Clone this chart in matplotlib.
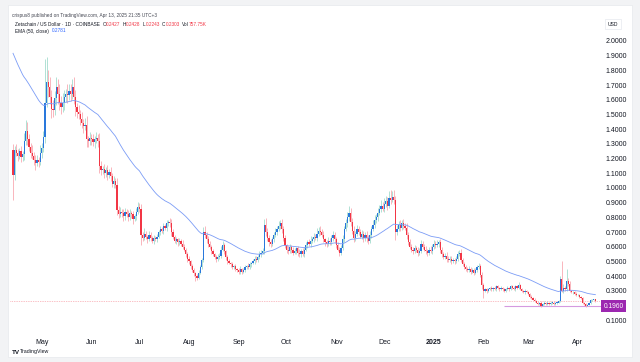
import numpy as np
import pandas as pd
import matplotlib
matplotlib.use('Agg')
import matplotlib.pyplot as plt
import matplotlib.dates as mdates
from matplotlib.patches import Rectangle
from matplotlib.transforms import blended_transform_factory

plt.rcParams['font.family'] = ['Liberation Sans', 'DejaVu Sans']

# ZETA/USD daily candles, Apr 13 2024 -> Apr 13 2025
start_date = '2024-04-13'
first_open = 1.26
closes = [
    1.09, 1.26, 1.24, 1.22, 1.25, 1.21, 1.23, 1.32, 1.39, 1.33,
    1.28, 1.24, 1.22, 1.19, 1.17, 1.19, 1.18, 1.24, 1.27, 1.35,
    1.58, 1.72, 1.69, 1.62, 1.54, 1.53, 1.61, 1.69, 1.64, 1.58,
    1.55, 1.58, 1.62, 1.64, 1.63, 1.66, 1.64, 1.69, 1.62, 1.55,
    1.52, 1.50, 1.47, 1.44, 1.42, 1.43, 1.33, 1.32, 1.34, 1.33,
    1.31, 1.33, 1.34, 1.32, 1.15, 1.12, 1.13, 1.10, 1.12, 1.09,
    1.11, 1.08, 1.03, 1.05, 1.02, 0.85, 0.82, 0.84, 0.83, 0.81,
    0.84, 0.82, 0.80, 0.83, 0.82, 0.79, 0.81, 0.84, 0.87, 0.86,
    0.68, 0.66, 0.69, 0.67, 0.65, 0.68, 0.66, 0.64, 0.66, 0.65,
    0.67, 0.70, 0.72, 0.71, 0.74, 0.73, 0.76, 0.77, 0.76, 0.70,
    0.67, 0.64, 0.65, 0.63, 0.64, 0.62, 0.60, 0.58, 0.55, 0.52,
    0.50, 0.47, 0.44, 0.42, 0.40, 0.39, 0.42, 0.46, 0.51, 0.70,
    0.68, 0.65, 0.62, 0.60, 0.57, 0.55, 0.53, 0.52, 0.53, 0.54,
    0.58, 0.61, 0.57, 0.53, 0.50, 0.49, 0.48, 0.46, 0.47, 0.45,
    0.44, 0.43, 0.45, 0.43, 0.44, 0.46, 0.47, 0.46, 0.48, 0.49,
    0.50, 0.52, 0.51, 0.53, 0.55, 0.56, 0.57, 0.75, 0.70, 0.66,
    0.63, 0.62, 0.65, 0.68, 0.70, 0.72, 0.74, 0.76, 0.72, 0.66,
    0.61, 0.58, 0.57, 0.60, 0.58, 0.56, 0.57, 0.59, 0.56, 0.55,
    0.57, 0.55, 0.58, 0.61, 0.63, 0.62, 0.64, 0.65, 0.67, 0.66,
    0.69, 0.71, 0.70, 0.68, 0.65, 0.63, 0.62, 0.64, 0.63, 0.66,
    0.68, 0.65, 0.61, 0.58, 0.56, 0.59, 0.65, 0.72, 0.76, 0.80,
    0.83, 0.77, 0.71, 0.66, 0.69, 0.72, 0.70, 0.67, 0.69, 0.66,
    0.68, 0.66, 0.64, 0.68, 0.72, 0.75, 0.78, 0.80, 0.83, 0.86,
    0.88, 0.86, 0.89, 0.91, 0.88, 0.93, 0.92, 0.94, 0.92, 0.70,
    0.72, 0.75, 0.73, 0.76, 0.74, 0.73, 0.68, 0.63, 0.60, 0.58,
    0.57, 0.59, 0.58, 0.56, 0.57, 0.62, 0.60, 0.58, 0.57, 0.56,
    0.58, 0.57, 0.60, 0.62, 0.61, 0.62, 0.63, 0.58, 0.55, 0.53,
    0.54, 0.52, 0.51, 0.52, 0.50, 0.51, 0.50, 0.52, 0.55, 0.56,
    0.51, 0.48, 0.46, 0.45, 0.44, 0.45, 0.43, 0.44, 0.42, 0.44,
    0.46, 0.47, 0.41, 0.34, 0.30, 0.31, 0.30, 0.31, 0.32, 0.31,
    0.32, 0.31, 0.33, 0.32, 0.31, 0.32, 0.31, 0.30, 0.31, 0.32,
    0.31, 0.33, 0.32, 0.31, 0.33, 0.32, 0.34, 0.31, 0.30, 0.29,
    0.30, 0.29, 0.28, 0.26, 0.25, 0.24, 0.23, 0.22, 0.21, 0.22,
    0.20, 0.21, 0.22, 0.21, 0.22, 0.21, 0.22, 0.22, 0.21, 0.22,
    0.22, 0.23, 0.38, 0.30, 0.32, 0.31, 0.37, 0.35, 0.30, 0.29,
    0.29, 0.28, 0.27, 0.27, 0.26, 0.25, 0.22, 0.21, 0.20, 0.205,
    0.22, 0.235, 0.24, 0.2427, 0.2303,
]
# wick lengths in percent of the body top / body bottom
wick_up_pct = [
    3, 2, 3, 2, 2, 3, 2, 4, 5, 4,
    3, 2, 4, 2, 3, 3, 2, 4, 3, 3,
    19, 10, 5, 4, 3, 4, 3, 4, 3, 4,
    3, 4, 3, 2, 4, 3, 3, 3, 4, 3,
    2, 3, 2, 3, 2, 3, 4, 2, 3, 2,
    3, 2, 3, 2, 4, 3, 2, 3, 2, 3,
    2, 3, 2, 3, 2, 5, 3, 4, 2, 3,
    3, 2, 4, 3, 2, 3, 2, 3, 4, 3,
    4, 3, 5, 3, 2, 4, 3, 2, 3, 2,
    3, 2, 3, 2, 3, 2, 3, 2, 3, 4,
    3, 2, 3, 2, 3, 2, 4, 3, 2, 3,
    3, 2, 3, 4, 2, 3, 5, 4, 3, 5,
    6, 3, 4, 3, 2, 3, 2, 3, 4, 3,
    4, 5, 3, 2, 3, 4, 2, 3, 2, 3,
    2, 3, 4, 2, 3, 3, 2, 4, 3, 2,
    3, 4, 3, 3, 4, 3, 4, 5, 6, 4,
    3, 4, 3, 3, 4, 3, 5, 3, 4, 3,
    3, 2, 4, 3, 2, 3, 4, 2, 3, 4,
    3, 4, 3, 4, 3, 4, 5, 3, 4, 3,
    5, 3, 4, 3, 4, 2, 3, 4, 3, 3,
    4, 3, 3, 4, 3, 4, 5, 3, 4, 5,
    6, 4, 3, 4, 3, 4, 3, 3, 4, 3,
    3, 4, 3, 4, 3, 4, 5, 3, 4, 3,
    4, 3, 5, 4, 3, 5, 6, 4, 5, 3,
    4, 3, 4, 3, 4, 3, 4, 3, 4, 3,
    3, 4, 3, 3, 4, 4, 3, 3, 4, 3,
    3, 4, 3, 4, 3, 4, 3, 4, 3, 3,
    3, 4, 3, 3, 4, 3, 3, 3, 4, 3,
    4, 3, 4, 3, 3, 4, 3, 3, 4, 3,
    3, 4, 3, 5, 4, 4, 3, 4, 3, 4,
    3, 4, 3, 4, 3, 4, 3, 4, 3, 4,
    3, 4, 3, 4, 3, 4, 6, 3, 4, 3,
    4, 3, 4, 3, 4, 3, 4, 3, 4, 3,
    4, 3, 4, 3, 4, 3, 4, 3, 4, 3,
    3, 4, 6, 32, 8, 5, 22, 5, 4, 3,
    4, 3, 4, 3, 4, 3, 4, 3, 4, 3,
    3, 4, 3, 1, 0,
]
wick_dn_pct = [
    16, 3, 2, 3, 2, 3, 2, 3, 2, 3,
    2, 3, 2, 3, 4, 2, 3, 2, 3, 2,
    3, 2, 4, 3, 4, 3, 2, 3, 4, 3,
    3, 2, 3, 2, 3, 2, 3, 2, 3, 4,
    3, 2, 3, 2, 3, 2, 4, 3, 2, 3,
    2, 3, 2, 3, 4, 3, 2, 3, 2, 3,
    2, 3, 2, 3, 2, 4, 3, 2, 3, 4,
    3, 2, 3, 2, 3, 4, 2, 3, 2, 3,
    10, 3, 2, 3, 4, 2, 3, 2, 3, 2,
    3, 2, 3, 2, 3, 2, 3, 2, 3, 4,
    3, 2, 3, 4, 3, 2, 3, 2, 3, 4,
    3, 4, 3, 5, 9, 4, 3, 2, 3, 3,
    3, 4, 3, 2, 3, 2, 3, 4, 3, 2,
    3, 2, 3, 4, 3, 2, 3, 2, 3, 4,
    3, 4, 3, 4, 2, 3, 2, 3, 2, 3,
    2, 3, 2, 3, 2, 3, 2, 3, 4, 3,
    4, 3, 2, 3, 2, 3, 2, 3, 4, 3,
    3, 4, 3, 2, 4, 3, 2, 3, 4, 3,
    3, 2, 3, 2, 3, 2, 3, 2, 3, 2,
    3, 2, 3, 2, 3, 4, 3, 2, 3, 3,
    3, 4, 3, 2, 4, 3, 2, 3, 2, 3,
    3, 4, 3, 4, 3, 2, 3, 2, 3, 4,
    3, 4, 3, 2, 3, 2, 3, 2, 3, 2,
    3, 2, 3, 2, 3, 2, 3, 2, 3, 8,
    3, 2, 3, 2, 3, 2, 4, 3, 2, 3,
    3, 2, 3, 4, 3, 2, 3, 2, 3, 4,
    3, 2, 3, 2, 3, 2, 3, 4, 3, 2,
    3, 4, 3, 2, 3, 2, 3, 2, 3, 2,
    3, 2, 3, 4, 3, 2, 3, 2, 3, 2,
    3, 2, 4, 8, 15, 3, 4, 3, 2, 3,
    3, 2, 3, 2, 3, 2, 3, 2, 3, 2,
    3, 2, 3, 2, 3, 2, 3, 2, 3, 2,
    3, 2, 3, 2, 3, 2, 3, 2, 3, 4,
    6, 3, 2, 3, 2, 3, 2, 3, 2, 3,
    3, 2, 3, 3, 4, 3, 3, 4, 3, 2,
    3, 2, 3, 2, 3, 2, 3, 2, 4, 3,
    2, 3, 2, 2, 3,
]
ema_seed = 1.95          # EMA(50) value just before the first visible candle
ema_last_text = '0.2781'
last_ohlc = [('O', '0.2427'), ('H', '0.2428'), ('L', '0.2243'), ('C', '0.2303'), ('Vol', '757.75K')]
support_level = 0.1960
support_from = '2025-02-14'
# 0.2000 sits under the purple level tag in the reference, so it is not labelled
y_ticks = [0.1, 0.3, 0.4, 0.5, 0.6, 0.7, 0.8, 0.9, 1.0,
           1.1, 1.2, 1.3, 1.4, 1.5, 1.6, 1.7, 1.8, 1.9, 2.0]
month_ticks = ['2024-05-01', '2024-06-01', '2024-07-01', '2024-08-01', '2024-09-01', '2024-10-01',
               '2024-11-01', '2024-12-01', '2025-01-01', '2025-02-01', '2025-03-01', '2025-04-01']
month_labels = ['May', 'Jun', 'Jul', 'Aug', 'Sep', 'Oct', 'Nov', 'Dec', '2025', 'Feb', 'Mar', 'Apr']

# ---- build OHLC ----
c = np.array(closes)
o = np.concatenate([[first_open], c[:-1]])
top = np.maximum(o, c)
bot = np.minimum(o, c)
h = top * (1 + np.array(wick_up_pct) / 100.0)
l = bot * (1 - np.array(wick_dn_pct) / 100.0)
dates = pd.date_range(start_date, periods=len(c), freq='D')
xd = mdates.date2num(dates)
up = c >= o

ema = pd.Series([ema_seed] + closes).ewm(span=50, adjust=False).mean().values[1:]

UP_BODY, DN_BODY = '#2a78dc', '#f23645'
UP_WICK, DN_WICK = '#a3dccd', '#f8aab2'
TXT = '#131722'

fig = plt.figure(figsize=(6.4, 3.62), dpi=100)
fig.patch.set_facecolor('#f2f3f5')
fig.patches.append(Rectangle((8 / 640, 5 / 362), 624 / 640, 352 / 362, zorder=-5,
                             transform=fig.transFigure, facecolor='white', edgecolor='#e6e8ec', lw=0.5))

ax = fig.add_axes([10 / 640, 29 / 362, 590 / 640, 297 / 362])
ax.set_facecolor('white')

# wicks
ax.vlines(xd[up], l[up], h[up], color=UP_WICK, lw=0.6, zorder=2)
ax.vlines(xd[~up], l[~up], h[~up], color=DN_WICK, lw=0.6, zorder=2)
# bodies
body_h = np.maximum(top - bot, 0.003)
ax.bar(xd[up], body_h[up], bottom=bot[up], width=0.75, color=UP_BODY, lw=0, zorder=3)
ax.bar(xd[~up], body_h[~up], bottom=bot[~up], width=0.75, color=DN_BODY, lw=0, zorder=3)

# EMA 50
ax.plot(xd, ema, color='#7b9cf6', lw=0.6, zorder=4)

# last price dotted line
ax.axhline(c[-1], color='#f5828c', ls=(0, (1, 1.5)), lw=0.5, zorder=1)

# support line + label
sx = mdates.date2num(pd.Timestamp(support_from))
ax.hlines(support_level, sx, xd[-1] + 8, color='#d59ae0', lw=0.8, zorder=1, clip_on=False)
trans = blended_transform_factory(ax.transAxes, ax.transData)
ax.text(1.006, support_level, f'{support_level:.4f}', transform=trans, fontsize=4.8, color='white',
        va='center', ha='left',
        bbox=dict(boxstyle='square,pad=0.35', facecolor='#9c27b0', edgecolor='none'))

ax.set_xlim(xd[0] - 1.9, xd[0] + 366.9)
ax.set_ylim(0.0136, 2.034)

ax.yaxis.tick_right()
ax.set_yticks(y_ticks)
ax.set_yticklabels([f'{v:.4f}' for v in y_ticks])
ax.tick_params(axis='y', length=0, pad=4, labelsize=5, labelcolor=TXT)

ax.set_xticks(mdates.date2num(pd.to_datetime(month_ticks)))
ax.set_xticklabels(month_labels)
ax.tick_params(axis='x', length=0, pad=4, labelsize=5, labelcolor=TXT)
for lab in ax.get_xticklabels():
    if lab.get_text() == '2025':
        lab.set_fontweight('bold')

for s in ax.spines.values():
    s.set_visible(False)

# header texts
def px(x, y):
    return x / 640, 1 - y / 362

renderer = fig.canvas.get_renderer()

def chain(x, y, parts, size=3.4):
    # draw text pieces one after another on a line, starting at pixel x
    for txt, col, gap in parts:
        t = fig.text(*px(x, y), txt, fontsize=size, color=col, va='center')
        x = t.get_window_extent(renderer).x1 + gap
    return x

fig.text(*px(12, 15), 'crispus8 published on TradingView.com, Apr 13, 2025 21:35 UTC+3',
         fontsize=3.4, color='#434651', va='center')
parts = [('Zetachain / US Dollar · 1D · COINBASE', TXT, 2.5)]
for key, val in last_ohlc:
    parts.append((key, TXT, 0.2))
    parts.append((val, '#f23645', 2.0))
chain(15, 24, parts)
chain(15, 31, [('EMA (50, close)', TXT, 2.5), (ema_last_text, '#2962ff', 0)])

fig.text(*px(613, 24), 'USD', fontsize=3.6, color=TXT, va='center', ha='center',
         bbox=dict(boxstyle='square,pad=0.5', facecolor='white', edgecolor='#e0e3eb', lw=0.4))

fig.text(*px(12, 352), 'TV', fontsize=4.5, fontweight='bold', color=TXT, va='center')
fig.text(*px(20, 352), 'TradingView', fontsize=3.8, color=TXT, va='center')

fig.savefig('out.png', dpi=100, facecolor=fig.get_facecolor())
